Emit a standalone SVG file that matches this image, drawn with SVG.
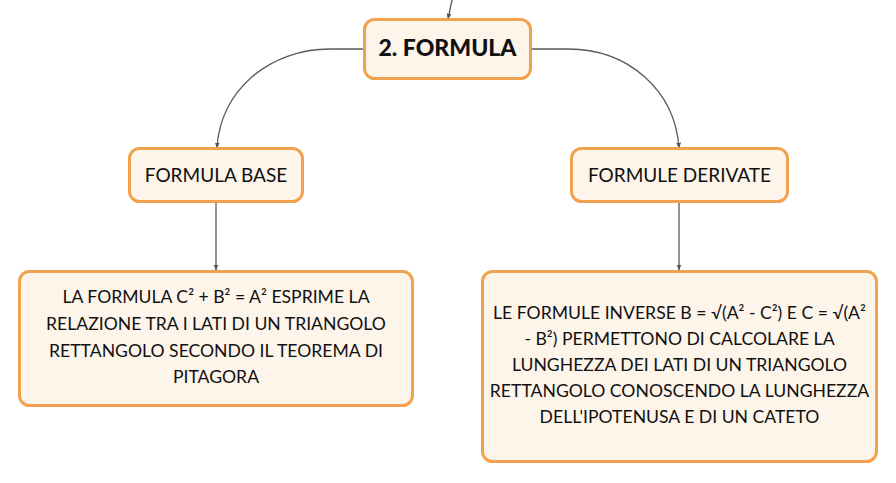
<svg xmlns="http://www.w3.org/2000/svg" width="896" height="483" viewBox="0 0 896 483">
<defs>
<marker id="arr" viewBox="0 0 10 10" refX="9" refY="5" markerWidth="6" markerHeight="6" orient="auto" markerUnits="userSpaceOnUse">
<path d="M0,1 L10,5 L0,9 z" fill="#555"/>
</marker>
<style>
.box{fill:#fdf4ea;stroke:#f0a24e;stroke-width:3}
.t{font-family:Lato,"Liberation Sans",sans-serif;fill:#111;text-anchor:middle}
.h{font-size:23px;font-weight:900}
.m{font-size:19px}
.b{font-size:17.6px}
.c{fill:none;stroke:#5a5a5a;stroke-width:1.3;marker-end:url(#arr)}
</style>
</defs>
<rect width="896" height="483" fill="#ffffff"/>
<g id="connectors">
<path class="c" d="M452,0 L448,19"/>
<path class="c" d="M364,49 L330,49 C270,49 220,90 217,148"/>
<path class="c" d="M532,49 L568,49 C628,49 675,90 679,148"/>
<path class="c" d="M216,202 L216,270"/>
<path class="c" d="M679,202 L679,270"/>
</g>
<g id="root">
<rect class="box" x="364.5" y="19.5" width="166" height="59" rx="10"/>
<text class="t h" x="447.5" y="56">2. FORMULA</text>
</g>
<g id="formula-base">
<rect class="box" x="129.5" y="148.5" width="173" height="53" rx="10"/>
<text class="t m" x="216" y="182">FORMULA BASE</text>
</g>
<g id="formule-derivate">
<rect class="box" x="571.5" y="148.5" width="216" height="53" rx="10"/>
<text class="t m" x="679.5" y="182">FORMULE DERIVATE</text>
</g>
<g id="desc-base">
<rect class="box" x="19.5" y="271.5" width="393" height="134" rx="10"/>
<text class="t b" x="216" y="303">LA FORMULA C² + B² = A² ESPRIME LA</text>
<text class="t b" x="216" y="330">RELAZIONE TRA I LATI DI UN TRIANGOLO</text>
<text class="t b" x="216" y="357">RETTANGOLO SECONDO IL TEOREMA DI</text>
<text class="t b" x="216" y="383">PITAGORA</text>
</g>
<g id="desc-derivate">
<rect class="box" x="482.5" y="271.5" width="394" height="190" rx="10"/>
<text class="t b" x="679.5" y="319">LE FORMULE INVERSE B = √(A² - C²) E C = √(A²</text>
<text class="t b" x="679.5" y="345">- B²) PERMETTONO DI CALCOLARE LA</text>
<text class="t b" x="679.5" y="371">LUNGHEZZA DEI LATI DI UN TRIANGOLO</text>
<text class="t b" x="679.5" y="397">RETTANGOLO CONOSCENDO LA LUNGHEZZA</text>
<text class="t b" x="679.5" y="423">DELL'IPOTENUSA E DI UN CATETO</text>
</g>
</svg>
